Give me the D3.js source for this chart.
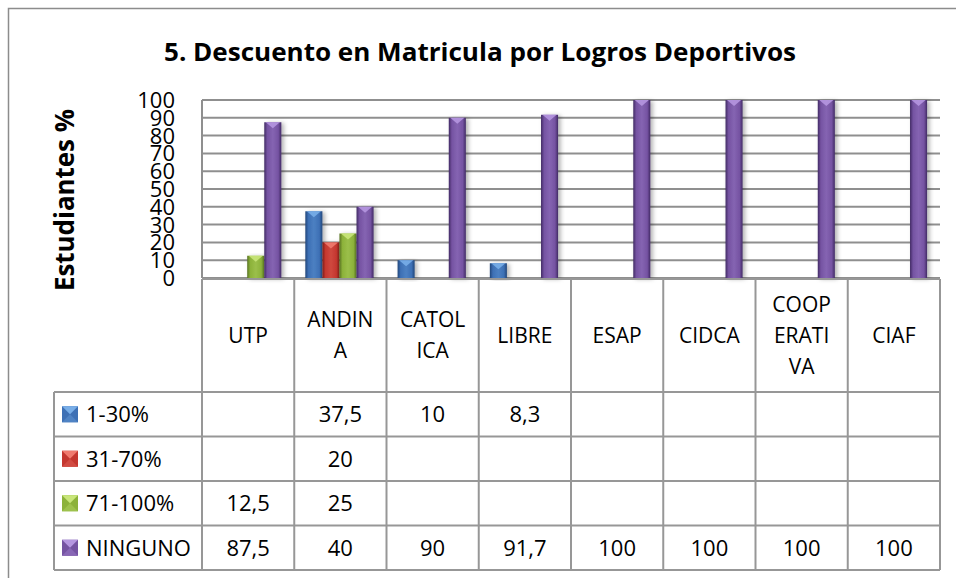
<!DOCTYPE html>
<html>
<head>
<meta charset="utf-8">
<script src="https://cdn.jsdelivr.net/npm/d3@7"></script>
<style>
  body { margin: 0; background: #fff; }
  text { font-family: "Open Sans", Lato, sans-serif; fill: #000; }
</style>
</head>
<body>
<svg id="chart"></svg>
<script>
// data
const categories = ["UTP", "ANDINA", "CATOLICA", "LIBRE", "ESAP", "CIDCA", "COOPERATIVA", "CIAF"];
// header labels as they wrap in the table cells
const categoryLines = [["UTP"], ["ANDIN", "A"], ["CATOL", "ICA"], ["LIBRE"], ["ESAP"], ["CIDCA"], ["COOP", "ERATI", "VA"], ["CIAF"]];
const seriesNames = ["1-30%", "31-70%", "71-100%", "NINGUNO"];
const range1to30 = [null, 37.5, 10, 8.3, null, null, null, null];
const range31to70 = [null, 20, null, null, null, null, null, null];
const range71to100 = [12.5, 25, null, null, null, null, null, null];
const ninguno = [87.5, 40, 90, 91.7, 100, 100, 100, 100];
const yTicks = [0, 10, 20, 30, 40, 50, 60, 70, 80, 90, 100];

const seriesValues = [range1to30, range31to70, range71to100, ninguno];

// base / dark / light for each series
const palette = [
    { base: "#3d70b5", dark: "#22467a", light: "#78aee8" },
    { base: "#c4372f", dark: "#7c1d18", light: "#f07a6e" },
    { base: "#8cb23a", dark: "#587322", light: "#c9e67a" },
    { base: "#7553a2", dark: "#412a64", light: "#b596e0" }
];

const w = 956, h = 578;
const plot = { left: 202, right: 940, top: 100, bottom: 278 };
const table = { legendLeft: 54, headerBottom: 392, rowH: 44.5 };
const fontSize = 22;

const svg = d3.select("#chart").attr("width", w).attr("height", h);
const defs = svg.append("defs");

palette.forEach((c, i) => {
    const g = defs.append("linearGradient").attr("id", "grad" + i)
        .attr("x1", "0%").attr("x2", "100%").attr("y1", "0%").attr("y2", "0%");
    g.append("stop").attr("offset", "0%").attr("stop-color", c.dark);
    g.append("stop").attr("offset", "18%").attr("stop-color", c.base);
    g.append("stop").attr("offset", "50%").attr("stop-color", d3.interpolateRgb(c.base, c.light)(0.25));
    g.append("stop").attr("offset", "82%").attr("stop-color", c.base);
    g.append("stop").attr("offset", "100%").attr("stop-color", c.dark);
});

const shadow = defs.append("filter").attr("id", "shadow")
    .attr("x", "-30%").attr("y", "-10%").attr("width", "170%").attr("height", "130%");
shadow.append("feDropShadow").attr("dx", 2.5).attr("dy", 1).attr("stdDeviation", 2)
    .attr("flood-color", "#000").attr("flood-opacity", 0.3);

// outer frame (runs off the right and bottom of the picture)
svg.append("rect")
    .attr("x", 8.5).attr("y", 8.5).attr("width", 960).attr("height", 600)
    .attr("fill", "none").attr("stroke", "#8c8c8c").attr("stroke-width", 1.5);

// title
svg.append("text")
    .attr("x", 480).attr("y", 61)
    .attr("text-anchor", "middle")
    .attr("font-size", 25).attr("font-weight", "bold")
    .attr("textLength", 632).attr("lengthAdjust", "spacingAndGlyphs")
    .text("5. Descuento en Matricula por Logros Deportivos");

// scales
const x0 = d3.scaleBand().domain(categories).range([plot.left, plot.right]);
const x1 = d3.scaleBand().domain(seriesNames)
    .range([x0.bandwidth() * 0.12, x0.bandwidth() * 0.86]);
const y = d3.scaleLinear().domain([0, 100]).range([plot.bottom, plot.top]);

// gridlines
svg.append("g")
    .selectAll("line")
    .data(yTicks)
    .join("line")
    .attr("x1", plot.left).attr("x2", plot.right)
    .attr("y1", d => y(d)).attr("y2", d => y(d))
    .attr("stroke", "#8f8f8f").attr("stroke-width", 2);

svg.append("line")
    .attr("x1", plot.left).attr("x2", plot.left)
    .attr("y1", plot.top).attr("y2", plot.bottom)
    .attr("stroke", "#8f8f8f").attr("stroke-width", 2);

// y tick labels (they crowd each other in the original too)
svg.append("g")
    .selectAll("text")
    .data(yTicks)
    .join("text")
    .attr("x", 175).attr("y", d => y(d))
    .attr("dy", "0.36em")
    .attr("text-anchor", "end")
    .attr("font-size", 22)
    .text(d => d);

// y axis title
svg.append("text")
    .attr("transform", "translate(74,200) rotate(-90)")
    .attr("text-anchor", "middle")
    .attr("font-size", 26).attr("font-weight", "bold")
    .attr("textLength", 182).attr("lengthAdjust", "spacingAndGlyphs")
    .text("Estudiantes %");

// bars
const barData = [];
seriesValues.forEach((vals, si) => {
    vals.forEach((v, ci) => {
        if (v != null) barData.push({ cat: categories[ci], series: seriesNames[si], si: si, value: v });
    });
});

const bars = svg.append("g")
    .selectAll("g")
    .data(barData)
    .join("g")
    .attr("filter", "url(#shadow)");

bars.append("rect")
    .attr("x", d => x0(d.cat) + x1(d.series))
    .attr("y", d => y(d.value))
    .attr("width", x1.bandwidth())
    .attr("height", d => y(0) - y(d.value))
    .attr("fill", d => "url(#grad" + d.si + ")");

// lighter pointed cap at the top of each bar
bars.append("path")
    .attr("d", d => {
        const bx = x0(d.cat) + x1(d.series), by = y(d.value), bw = x1.bandwidth();
        const capH = Math.min(6, y(0) - y(d.value));
        return `M${bx + 1.5},${by}L${bx + bw - 1.5},${by}L${bx + bw / 2},${by + capH}Z`;
    })
    .attr("fill", d => palette[d.si].light)
    .attr("opacity", 0.9);

// data table
const lineColor = "#979797";
const tableG = svg.append("g");
const rowsBottom = table.headerBottom + table.rowH * seriesNames.length;

// horizontal lines
tableG.append("line")
    .attr("x1", plot.left).attr("x2", plot.right)
    .attr("y1", plot.bottom + 1).attr("y2", plot.bottom + 1)
    .attr("stroke", lineColor).attr("stroke-width", 2);
tableG.selectAll("line.row")
    .data(d3.range(seriesNames.length + 1))
    .join("line")
    .attr("class", "row")
    .attr("x1", table.legendLeft).attr("x2", plot.right)
    .attr("y1", i => table.headerBottom + i * table.rowH)
    .attr("y2", i => table.headerBottom + i * table.rowH)
    .attr("stroke", lineColor).attr("stroke-width", 2);

// vertical lines
const colEdges = categories.map(c => x0(c)).concat([plot.right]);
tableG.selectAll("line.col")
    .data(colEdges)
    .join("line")
    .attr("class", "col")
    .attr("x1", d => d).attr("x2", d => d)
    .attr("y1", plot.bottom + 1).attr("y2", rowsBottom)
    .attr("stroke", lineColor).attr("stroke-width", 2);
tableG.append("line")
    .attr("x1", table.legendLeft).attr("x2", table.legendLeft)
    .attr("y1", table.headerBottom).attr("y2", rowsBottom)
    .attr("stroke", lineColor).attr("stroke-width", 2);

// header labels
const headerMid = (plot.bottom + table.headerBottom) / 2;
const lineH = 31;
tableG.selectAll("text.head")
    .data(categories)
    .join("text")
    .attr("class", "head")
    .attr("text-anchor", "middle")
    .attr("font-size", 21)
    .each(function(c, i) {
        const lines = categoryLines[i];
        const t = d3.select(this);
        lines.forEach((ln, k) => {
            t.append("tspan")
                .attr("x", x0(c) + x0.bandwidth() / 2)
                .attr("y", headerMid + (k - (lines.length - 1) / 2) * lineH)
                .attr("dy", "0.36em")
                .text(ln);
        });
    });

// legend cells + values
const fmt = v => String(v).replace(".", ",");
seriesNames.forEach((name, si) => {
    const rowMid = table.headerBottom + table.rowH * (si + 0.5);
    const kx = 62, ky = rowMid - 8, ks = 16;
    const c = palette[si];
    tableG.append("rect")
        .attr("x", kx).attr("y", ky).attr("width", ks).attr("height", ks)
        .attr("fill", c.base);
    tableG.append("path")
        .attr("d", `M${kx},${ky}L${kx + ks},${ky}L${kx + ks / 2},${ky + ks / 2}Z`)
        .attr("fill", c.light);
    tableG.append("path")
        .attr("d", `M${kx},${ky + ks}L${kx + ks},${ky + ks}L${kx + ks / 2},${ky + ks / 2}Z`)
        .attr("fill", d3.interpolateRgb(c.base, c.light)(0.3));
    tableG.append("text")
        .attr("x", 86).attr("y", rowMid).attr("dy", "0.36em")
        .attr("font-size", fontSize)
        .text(name);

    tableG.selectAll(null)
        .data(seriesValues[si].map((v, ci) => ({ v: v, cat: categories[ci] })).filter(d => d.v != null))
        .join("text")
        .attr("x", d => x0(d.cat) + x0.bandwidth() / 2)
        .attr("y", rowMid).attr("dy", "0.36em")
        .attr("text-anchor", "middle")
        .attr("font-size", fontSize)
        .text(d => fmt(d.v));
});
</script>
</body>
</html>
